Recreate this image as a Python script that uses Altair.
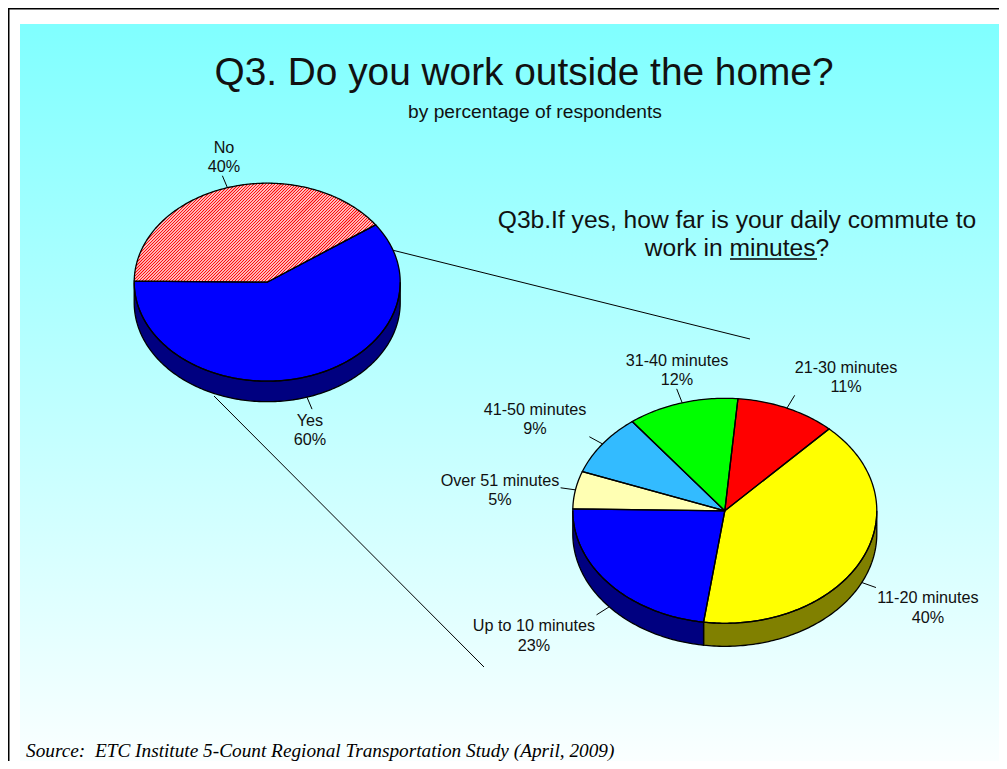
import math
import altair as alt
import pandas as pd

# ---- values ----
work_labels = ["No", "Yes"]
work_values = [40, 60]
work_shares = [40.0, 60.0]
work_colors = ["#FFFFFF", "#0000FF"]
work_walls = ["#FFFFFF", "#000080"]

commute_labels = ["11-20 minutes", "Up to 10 minutes", "Over 51 minutes",
                  "41-50 minutes", "31-40 minutes", "21-30 minutes"]
commute_values = [40, 23, 5, 9, 12, 11]
commute_shares = [40.2, 23.05, 5.4, 8.9, 11.8, 10.65]
commute_colors = ["#FFFF00", "#0000FF", "#FFFFB3", "#33BBFF", "#00FF00", "#FF0000"]
commute_walls = ["#808000", "#000080", "#808059", "#1A5E80", "#008000", "#800000"]

title_text = "Q3. Do you work outside the home?"
subtitle_text = "by percentage of respondents"
question_lines = ["Q3b.If yes, how far is your daily commute to", "work in minutes?"]
source_text = "Source:\u00a0 ETC Institute 5-Count Regional Transportation Study (April, 2009)"

# ---- layout (picture pixels) ----
W, H = 991, 753
TOP, LEFT = 8, 8
PIE_A = dict(cx=267.2, cy=282.2, rx=133, ry=99, depth=20.5, start=-89.4, lead=13)
PIE_B = dict(cx=724.8, cy=510.8, rx=152, ry=112.5, depth=23, start=43.3, lead=15)
LABELS_A = [(224, 148, 167), (310, 421, 440)]
LABELS_B = [(928, 598, 618), (534, 626, 646), (500, 481, 500),
            (535, 410, 429), (677, 361, 380), (846, 368, 387)]


def pt(p, a, dy=0):
    r = math.radians(a)
    return p["cx"] + p["rx"] * math.sin(r), p["cy"] - p["ry"] * math.cos(r) + dy


def arc(p, a, b, dy=0):
    n = max(2, int(abs(b - a)) + 1)
    return [pt(p, a + (b - a) * i / n, dy) for i in range(n + 1)]


def spans(p, values):
    out, a = [], p["start"]
    for v in values:
        b = a + 360 * v / sum(values)
        out.append((a, b))
        a = b
    return out


poly_rows, leaders, hatch_rows = [], [], []
pid = 0


def add_poly(pts, fill):
    global pid
    for i, (x, y) in enumerate(pts):
        poly_rows.append(dict(pid=pid, seq=i, x=x, y=y, fill=fill))
    pid += 1


def build(p, values, fills, walls):
    ss = spans(p, values)
    for (a, b), w in zip(ss, walls):
        for lo, hi in ((90, 270), (450, 630), (-270, -90)):
            s, e = max(a, lo), min(b, hi)
            if e > s:
                add_poly(arc(p, s, e) + arc(p, e, s, p["depth"]), w)
    for (a, b), f in zip(ss, fills):
        add_poly([(p["cx"], p["cy"])] + arc(p, a, b), f)
    for (a, b) in ss:
        m = (a + b) / 2
        mm = m % 360
        x, y = pt(p, m, p["depth"] if 90 < mm < 270 else 0)
        ox, oy = pt(p, m)
        dx, dy = ox - p["cx"], oy - p["cy"]
        d = math.hypot(dx, dy)
        leaders.append(dict(x=x, y=y, x2=x + dx / d * p["lead"], y2=y + dy / d * p["lead"]))
    return ss


spans_a = build(PIE_A, work_shares, work_colors, work_walls)
spans_b = build(PIE_B, commute_shares, commute_colors, commute_walls)

# diagonal hatching of the "No" slice, clipped to the slice outline
a0, b0 = spans_a[0]
outline = [(PIE_A["cx"], PIE_A["cy"])] + arc(PIE_A, a0, b0)
c = 300.0
while c < 700:
    hits = []
    for i in range(len(outline)):
        (x1, y1), (x2, y2) = outline[i], outline[(i + 1) % len(outline)]
        f1, f2 = x1 + y1 - c, x2 + y2 - c
        if f1 * f2 < 0:
            t = f1 / (f1 - f2)
            hits.append((x1 + (x2 - x1) * t, y1 + (y2 - y1) * t))
    if len(hits) >= 2:
        hits.sort()
        hatch_rows.append(dict(x=hits[0][0], y=hits[0][1], x2=hits[-1][0], y2=hits[-1][1]))
    c += 3.0

X = alt.X("x:Q", scale=alt.Scale(domain=[LEFT, LEFT + W], range=[0, W]), axis=None)
Y = alt.Y("y:Q", scale=alt.Scale(domain=[TOP, TOP + H], range=[0, H]), axis=None)


def segs(rows, **mark):
    return alt.Chart(pd.DataFrame(rows)).mark_rule(**mark).encode(
        x=X, y=Y, x2="x2:Q", y2="y2:Q")


def texts(rows, **mark):
    return alt.Chart(pd.DataFrame(rows)).mark_text(baseline="middle", **mark).encode(
        x=X, y=Y, text="t:N")


background = alt.Chart(pd.DataFrame([dict(x=20, x2=LEFT + W, y=24, y2=TOP + H)])).mark_rect(
    color=alt.Gradient(gradient="linear", x1=0, x2=0, y1=0, y2=1,
                       stops=[alt.GradientStop(offset=0, color="#80FFFF"),
                              alt.GradientStop(offset=1, color="#FAFFFF")])
).encode(x=X, x2="x2:Q", y=Y, y2="y2:Q")

frame = segs([dict(x=LEFT, y=TOP, x2=LEFT + W, y2=TOP),
              dict(x=LEFT, y=TOP, x2=LEFT, y2=TOP + H)], color="black", strokeWidth=3)

polys = pd.DataFrame(poly_rows)
fills = alt.Chart(polys).mark_line(strokeWidth=0, interpolate="linear-closed").encode(
    x=X, y=Y, order="seq:Q", detail="pid:N",
    fill=alt.Fill("fill:N", scale=None))
hatch = segs(hatch_rows, color="#FF0000", strokeWidth=1.1)
outlines = alt.Chart(polys).mark_line(stroke="black", strokeWidth=1.3,
                                      interpolate="linear-closed").encode(
    x=X, y=Y, order="seq:Q", detail="pid:N")

connectors = segs([dict(x=392, y=250, x2=750, y2=339),
                   dict(x=214, y=396, x2=484, y2=667)], color="black", strokeWidth=1)
leader_lines = segs(leaders, color="black", strokeWidth=1)

slice_text = []
for names, vals, pos in ((work_labels, work_values, LABELS_A),
                         (commute_labels, commute_values, LABELS_B)):
    for n, v, (x, y1, y2) in zip(names, vals, pos):
        slice_text.append(dict(x=x, y=y1, t=n))
        slice_text.append(dict(x=x, y=y2, t=f"{v}%"))

sans = "Liberation Sans"
layers = [
    background, frame, connectors, fills, hatch, outlines, leader_lines,
    texts(slice_text, font=sans, fontSize=16.2, color="#111111"),
    texts([dict(x=524, y=73, t=title_text)], font=sans, fontSize=38.8, color="#111111"),
    texts([dict(x=535, y=112, t=subtitle_text)], font=sans, fontSize=19.2, color="#111111"),
    texts([dict(x=737, y=220.5, t=question_lines[0]), dict(x=737, y=248.5, t=question_lines[1])],
          font=sans, fontSize=24.6, color="#111111"),
    segs([dict(x=730, y=259, x2=817, y2=259)], color="black", strokeWidth=1.5),
    texts([dict(x=26, y=751, t=source_text)], font="Liberation Serif", fontSize=19.3,
          fontStyle="italic", align="left", color="black"),
]

chart = alt.layer(*layers).properties(
    width=W, height=H, padding=0, background="white",
    autosize=alt.AutoSizeParams(type="none")
).configure_view(stroke=None)

chart.save("out.html", embed_options={"renderer": "svg", "actions": False})
